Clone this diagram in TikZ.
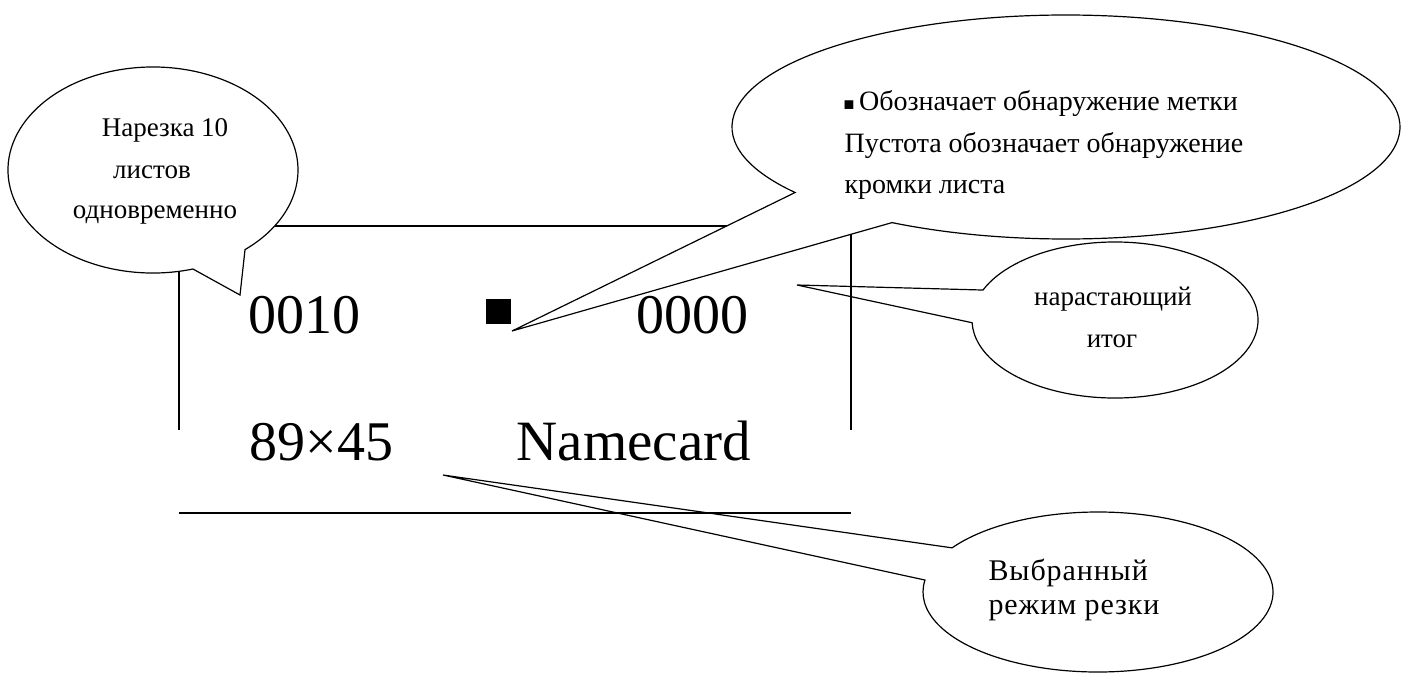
\documentclass[tikz,border=0pt]{standalone}
\usepackage{fontspec}
\setmainfont{Liberation Serif}
\usetikzlibrary{calc}
\begin{document}
\begin{tikzpicture}[x=1pt,y=-1pt,line width=1.2pt,
  txt/.style={inner sep=0pt,font=\fontsize{27}{32}\selectfont},
  disp/.style={inner sep=0pt,font=\fontsize{56}{60}\selectfont},
  bubble/.style={line join=miter}]
\useasboundingbox (0,0) rectangle (1409,678);
\fill[white] (0,0) rectangle (1409,678);

% display frame
\coordinate (fTL) at (179,226);
\coordinate (fTR) at (851,226);
\coordinate (fL) at (179,430);
\coordinate (fR) at (851,430);
\coordinate (fBL) at (179,513);
\coordinate (fBR) at (851,513);
\draw (fL) -- (fTL) -- (fTR) -- (fR);
\draw (fBL) -- (fBR);

% display content
\node[disp,anchor=base west] (cnt) at (248,333) {0010};
\node[disp,anchor=base west] (tot) at (636,333) {0000};
\node[disp,anchor=base west] (size) at (249,460) {89×45};
\node[disp,anchor=base west,font=\fontsize{57}{60}\selectfont] (mode) at (516,460) {Namecard};
\node[fill=black,minimum size=25pt,inner sep=0pt] (mark) at (498.5,311.5) {};

% left callout
\coordinate (Lc) at (153,170);
\coordinate (Lt) at (240,295);
\coordinate (L1) at ($(Lc)+({145*cos(74)},{103*sin(74)})$);
\coordinate (L2) at ($(Lc)+({145*cos(50.6)},{103*sin(50.6)})$);
\draw[bubble,fill=white] (Lt) -- (L1) arc[start angle=-74,end angle=-410.6,x radius=145pt,y radius=103pt] -- cycle;
\node[txt,anchor=base] (l1) at (165,136) {Нарезка 10};
\node[txt,anchor=base] (l2) at (152,178) {листов};
\node[txt,anchor=base] (l3) at (155,218) {одновременно};

% big callout
\coordinate (Bc) at (1066,127);
\coordinate (Bt) at (512,331);
\coordinate (B1) at ($(Bc)+({334*cos(144.2)},{112*sin(144.2)})$);
\coordinate (B2) at ($(Bc)+({334*cos(121.4)},{112*sin(121.4)})$);
\draw[bubble,fill=white] (Bt) -- (B1) arc[start angle=-144.2,end angle=-481.4,x radius=334pt,y radius=112pt] -- cycle;
\node[txt,font=\fontsize{28}{32}\selectfont,anchor=base west] (b1) at (843,110) {{\fontsize{18}{18}\selectfont ■}\,Обозначает обнаружение метки};
\node[txt,font=\fontsize{28}{32}\selectfont,anchor=base west] (b2) at (844,152) {Пустота обозначает обнаружение};
\node[txt,font=\fontsize{28}{32}\selectfont,anchor=base west] (b3) at (844,193) {кромки листа};

% running total callout
\coordinate (Sc) at (1115,320);
\coordinate (St) at (797,285);
\coordinate (S1) at ($(Sc)+({143*cos(202.6)},{78*sin(202.6)})$);
\coordinate (S2) at ($(Sc)+({143*cos(178)},{78*sin(178)})$);
\fill[white] (Sc) ellipse [x radius=143pt,y radius=78pt];
\draw[bubble] (St) -- (S1) arc[start angle=-202.6,end angle=-538,x radius=143pt,y radius=78pt] -- cycle;
\node[txt,anchor=base] (s1) at (1113,305) {нарастающий};
\node[txt,anchor=base] (s2) at (1112,347) {итог};

% cut mode callout
\coordinate (Dc) at (1098,592);
\coordinate (Dt) at (443,475);
\coordinate (D1) at ($(Dc)+({175*cos(213.5)},{80*sin(213.5)})$);
\coordinate (D2) at ($(Dc)+({175*cos(188.6)},{80*sin(188.6)})$);
\fill[white] (Dc) ellipse [x radius=175pt,y radius=80pt];
\draw[bubble] (Dt) -- (D1) arc[start angle=-213.5,end angle=-548.6,x radius=175pt,y radius=80pt] -- cycle;
\node[txt,font=\fontsize{30}{32}\selectfont\addfontfeature{LetterSpace=3},anchor=base west] (d1) at (988,580) {Выбранный};
\node[txt,font=\fontsize{30}{32}\selectfont\addfontfeature{LetterSpace=3},anchor=base west] (d2) at (988,614) {режим резки};
\end{tikzpicture}
\end{document}
